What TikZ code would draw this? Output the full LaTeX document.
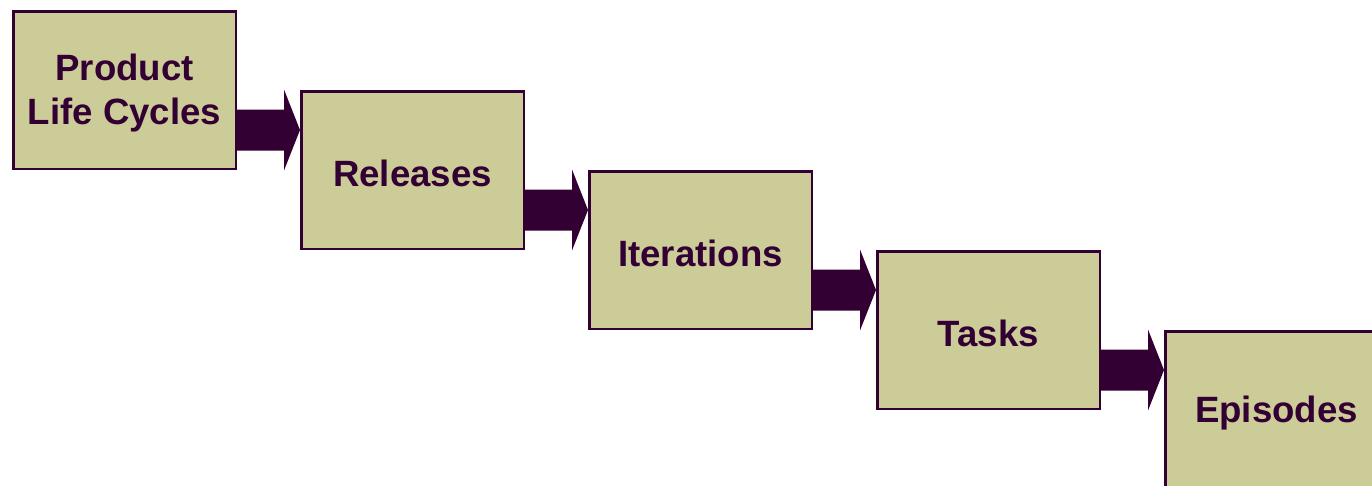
\documentclass[tikz,border=0pt]{standalone}
\usepackage{fontspec}
\setmainfont{Liberation Sans}
\usetikzlibrary{calc}
\definecolor{boxfill}{HTML}{CCCC99}
\definecolor{plum}{HTML}{330033}
\tikzset{
  stage/.style={draw=plum, line width=2.5pt, fill=boxfill,
    minimum width=222.5pt, minimum height=157.5pt, inner sep=0pt},
  stagetext/.style={text=plum, inner sep=0pt, align=center,
    font=\fontsize{36.6}{44}\selectfont\bfseries},
  flowarrow/.style={fill=plum, draw=none}
}
% filled block arrow from the east side of #1 to the west side of #2,
% centred on the band where the two boxes overlap vertically
\newcommand\stagearrow[2]{%
  \path let \p1=(#1.east), \p2=(#2.west), \p3=(#1.south), \p4=(#2.north),
    \n1={(\y3+\y4)/2}, \n2={\x2-16pt} in
    [flowarrow] (\x1,{\n1+20.5pt}) -- (\n2,{\n1+20.5pt}) -- (\n2,{\n1+40.5pt})
    -- (\x2,\n1) -- (\n2,{\n1-40.5pt}) -- (\n2,{\n1-20.5pt})
    -- (\x1,{\n1-20.5pt}) -- cycle;}
\begin{document}
\begin{tikzpicture}[x=1pt, y=-1pt]
  \useasboundingbox (0,0) rectangle (1372,485);
  \clip (0,0) rectangle (1372,485);
  \node[stage] (plc) at (124.5,90) {};
  \node[stage] (rel) at (412.5,170) {};
  \node[stage] (ite) at (700.5,250) {};
  \node[stage] (tsk) at (988.5,330) {};
  \node[stage] (epi) at (1276.5,410) {};
  \node[stagetext] (plct) at ([yshift=-3pt]plc.center) {Product\\Life Cycles};
  \node[stagetext] (relt) at ([yshift=-3pt]rel.center) {Releases};
  \node[stagetext] (itet) at ([yshift=-3pt]ite.center) {Iterations};
  \node[stagetext] (tskt) at ([yshift=-3pt]tsk.center) {Tasks};
  \node[stagetext] (epit) at ([yshift=-3pt]epi.center) {Episodes};
  \stagearrow{plc}{rel}
  \stagearrow{rel}{ite}
  \stagearrow{ite}{tsk}
  \stagearrow{tsk}{epi}
\end{tikzpicture}
\end{document}
